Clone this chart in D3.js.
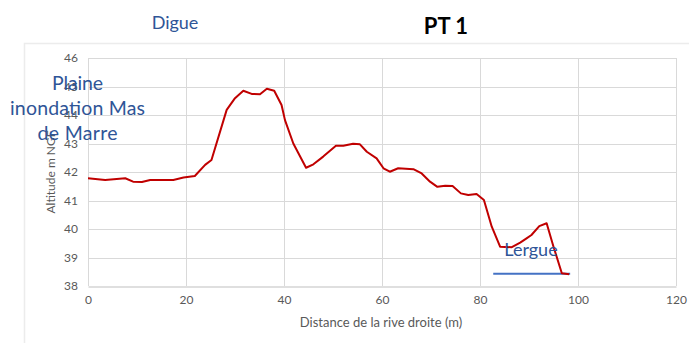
<!DOCTYPE html>
<html>
<head>
<meta charset="utf-8">
<script src="https://cdn.jsdelivr.net/npm/d3@7"></script>
<style>
  html, body { margin: 0; padding: 0; background: #fff; }
  svg { display: block; font-family: Lato, "Open Sans", sans-serif; }
</style>
</head>
<body>
<svg id="chart" width="689" height="343"></svg>
<script>
// Ground profile of cross-section PT 1: distance from the right bank (m) vs altitude (m NGF)
const distance = [0, 3.5, 7.6, 9.2, 11, 12.7, 17.4, 19.5, 21.8, 23.9, 25.2, 28.3, 30, 31.7, 33.4, 35.1,
  36.5, 38, 39.5, 40.2, 41.9, 44.5, 46, 48, 50.6, 52.1, 54.1, 55.5, 56.9, 58.9, 60.3, 61.6, 63.3,
  66.4, 68.1, 69.8, 71.3, 72.9, 74.4, 76.1, 77.6, 79.3, 80.8, 82.4, 84.1, 86.5, 88.2, 89.5, 90.5,
  92.1, 93.6, 95, 96.7, 98.2];
const altitude = [41.78, 41.72, 41.78, 41.66, 41.65, 41.72, 41.72, 41.81, 41.86, 42.25, 42.42, 44.18,
  44.59, 44.85, 44.74, 44.73, 44.92, 44.85, 44.35, 43.82, 43.0, 42.15, 42.27, 42.54, 42.92, 42.92,
  42.99, 42.97, 42.71, 42.48, 42.13, 42.01, 42.13, 42.1, 41.95, 41.66, 41.48, 41.52, 41.51, 41.25,
  41.19, 41.23, 41.02, 40.08, 39.38, 39.36, 39.52, 39.67, 39.79, 40.1, 40.2, 39.38, 38.45, 38.41];

// Water level of the Lergue
const waterExtent = [82.7, 98.4];
const waterLevel = 38.43;

const xTicks = [0, 20, 40, 60, 80, 100, 120];
const yTicks = [38, 39, 40, 41, 42, 43, 44, 45, 46];

const svg = d3.select("#chart");
const plot = { left: 88, right: 676, top: 58, bottom: 286 };

const x = d3.scaleLinear().domain([0, 120]).range([plot.left, plot.right]);
const y = d3.scaleLinear().domain([38, 46]).range([plot.bottom, plot.top]);

// chart area frame
svg.append("rect")
  .attr("x", 24.5).attr("y", 43.5).attr("width", 700).attr("height", 320)
  .attr("fill", "none").attr("stroke", "#ececec").attr("stroke-width", 1.5);

// gridlines
svg.append("g").selectAll("line").data(yTicks.slice(1)).join("line")
  .attr("x1", plot.left).attr("x2", plot.right)
  .attr("y1", d => Math.round(y(d)) + 0.5).attr("y2", d => Math.round(y(d)) + 0.5)
  .attr("stroke", "#d9d9d9").attr("stroke-width", 1);
svg.append("g").selectAll("line").data(xTicks).join("line")
  .attr("x1", d => Math.round(x(d)) + 0.5).attr("x2", d => Math.round(x(d)) + 0.5)
  .attr("y1", plot.top).attr("y2", plot.bottom)
  .attr("stroke", "#d9d9d9").attr("stroke-width", 1);

// axes
const xAxis = svg.append("g")
  .attr("transform", `translate(0,${Math.round(y(38)) + 0.5})`)
  .call(d3.axisBottom(x).tickValues(xTicks).tickSize(0).tickPadding(9));
xAxis.select(".domain").attr("stroke", "#bfbfbf");
xAxis.selectAll("text").attr("fill", "#595959").attr("font-size", 12).attr("font-family", "Lato, sans-serif");

const yAxis = svg.append("g")
  .attr("transform", `translate(${plot.left},0)`)
  .call(d3.axisLeft(y).tickValues(yTicks).tickSize(0).tickPadding(10));
yAxis.select(".domain").remove();
yAxis.selectAll("text").attr("fill", "#595959").attr("font-size", 12).attr("font-family", "Lato, sans-serif");

// axis titles
svg.append("text")
  .attr("x", (plot.left + plot.right) / 2 - 1).attr("y", 327)
  .attr("text-anchor", "middle").attr("fill", "#595959").attr("font-size", 13)
  .text("Distance de la rive droite (m)");
svg.append("text")
  .attr("transform", `translate(55,${(plot.top + plot.bottom) / 2}) rotate(-90)`)
  .attr("text-anchor", "middle").attr("fill", "#595959").attr("font-size", 12)
  .text("Altitude m NGF");

// water line
svg.append("line")
  .attr("x1", x(waterExtent[0])).attr("x2", x(waterExtent[1]))
  .attr("y1", y(waterLevel)).attr("y2", y(waterLevel))
  .attr("stroke", "#4472c4").attr("stroke-width", 2);

// ground profile
const pts = distance.map((d, i) => [d, altitude[i]]);
svg.append("path")
  .datum(pts)
  .attr("fill", "none").attr("stroke", "#c00000").attr("stroke-width", 2)
  .attr("stroke-linejoin", "round")
  .attr("d", d3.line().x(d => x(d[0])).y(d => y(d[1])));

// title and annotations
svg.append("text")
  .attr("x", 446).attr("y", 34).attr("text-anchor", "middle")
  .attr("font-size", 22).attr("font-weight", "bold").attr("fill", "#000")
  .text("PT 1");

const blue = "#2f5597";
svg.append("text")
  .attr("x", 175).attr("y", 29).attr("text-anchor", "middle")
  .attr("font-size", 18).attr("fill", blue)
  .text("Digue");

const plaine = svg.append("text")
  .attr("text-anchor", "middle").attr("font-size", 19.5).attr("fill", blue);
[["Plaine", 51], ["inondation Mas", 135], ["de Marre", 80]].forEach(([t, w], i) => {
  plaine.append("tspan").attr("x", 77.5).attr("y", 90 + i * 25)
    .attr("textLength", w).attr("lengthAdjust", "spacing").text(t);
});

svg.append("text")
  .attr("x", 531).attr("y", 256).attr("text-anchor", "middle")
  .attr("font-size", 18).attr("fill", blue)
  .text("Lergue");
</script>
</body>
</html>
